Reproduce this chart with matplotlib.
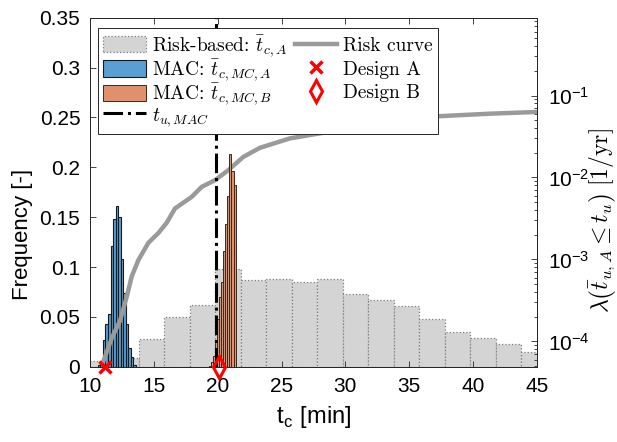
import matplotlib
matplotlib.use("Agg")
import matplotlib.pyplot as plt
import numpy as np
from matplotlib.ticker import FixedLocator, FuncFormatter

plt.rcParams['font.family'] = ['Liberation Sans', 'DejaVu Sans']
plt.rcParams['mathtext.fontset'] = 'cm'

# risk-based histogram (2 min bins)
grey_start, grey_width = 9.8, 2.0
grey_freq = [0.006, 0.009, 0.028, 0.050, 0.062, 0.098, 0.087, 0.088, 0.085,
             0.088, 0.073, 0.067, 0.061, 0.048, 0.035, 0.029, 0.023, 0.015]

# MAC design A histogram
blue_start, blue_width = 10.6, 0.2
blue_freq = [0.002, 0.004, 0.027, 0.043, 0.053, 0.121, 0.148, 0.161, 0.150,
             0.108, 0.074, 0.043, 0.019, 0.010, 0.002]

# MAC design B histogram
orange_start, orange_width = 19.32, 0.16
orange_freq = [0.001, 0.005, 0.011, 0.026, 0.048, 0.070, 0.085, 0.116, 0.143,
               0.171, 0.213, 0.196, 0.182]

# risk curve (right axis, log)
risk_t = [11.0, 11.7, 12.35, 12.87, 13.26, 13.78, 14.57, 15.35, 16.0, 16.66,
          17.96, 18.75, 19.8, 20.83, 22.0, 23.3, 25.66, 29.6, 33.5, 37.4, 41.3, 45.0]
risk_lam = [5.5e-5, 1.1e-4, 1.8e-4, 3.5e-4, 6.2e-4, 9.8e-4, 1.6e-3, 2.1e-3, 2.8e-3,
            4.2e-3, 5.8e-3, 7.7e-3, 9.3e-3, 0.0123, 0.0178, 0.023, 0.030, 0.038,
            0.048, 0.056, 0.060, 0.063]

t_u_mac = 19.9
design_a = 11.2
design_b = 20.1

fig = plt.figure(figsize=(6.17, 4.42), dpi=100)
ax = fig.add_axes([0.146, 0.170, 0.724, 0.790])
ax2 = ax.twinx()

def left_edges(start, width, n):
    return start + width * np.arange(n)

h_grey = ax.bar(left_edges(grey_start, grey_width, len(grey_freq)), grey_freq,
                width=grey_width, align='edge', color='#d4d4d4', edgecolor='#7f7f7f',
                linestyle=':', linewidth=0.9, zorder=1, label=r'Risk-based: $\bar{t}_{c,A}$')
h_blue = ax.bar(left_edges(blue_start, blue_width, len(blue_freq)), blue_freq,
                width=blue_width, align='edge', color='#5a9fd4', edgecolor='#1a1a1a',
                linewidth=0.8, zorder=2, label=r'MAC: $\bar{t}_{c,MC,A}$')

h_risk, = ax2.plot(risk_t, risk_lam, color='#9a9a9a', lw=3.2, zorder=3, label='Risk curve')

# orange bars drawn above the risk curve, in left-axis coordinates
h_orange = ax2.bar(left_edges(orange_start, orange_width, len(orange_freq)), orange_freq,
                   width=orange_width, align='edge', color='#e0906a', edgecolor='#3a2a20',
                   linewidth=0.7, zorder=4, transform=ax.transData,
                   label=r'MAC: $\bar{t}_{c,MC,B}$')

h_tu = ax2.axvline(t_u_mac, color='black', ls='-.', lw=2.2, zorder=5, label=r'$t_{u,MAC}$')
h_a, = ax2.plot([design_a], [0], 'x', color='red', ms=9, mew=2.5, transform=ax.transData,
                clip_on=False, zorder=6, label='Design A')
h_b, = ax2.plot([design_b], [0], 'd', color='red', mfc='none', ms=11, mew=2.2,
                transform=ax.transData, clip_on=False, zorder=6, label='Design B')

ax.set_xlim(10, 45)
ax.set_ylim(0, 0.35)
ax.set_xticks(np.arange(10, 46, 5))
ax.set_yticks(np.arange(0, 0.351, 0.05))
ax.yaxis.set_major_formatter(FuncFormatter(lambda v, p: '%g' % round(v, 2)))

ax2.set_yscale('log')
ax2.set_ylim(4.9e-5, 0.89)
ax2.yaxis.set_major_locator(FixedLocator([1e-4, 1e-3, 1e-2, 1e-1]))
ax2.yaxis.set_major_formatter(FuncFormatter(
    lambda v, p: r'$\mathregular{10^{%d}}$' % round(np.log10(v))))

for a in (ax, ax2):
    for s in a.spines.values():
        s.set_color('#262626')
        s.set_linewidth(0.7)
ax.tick_params(direction='in', labelsize=15, colors='#262626', labelcolor='black',
               top=True, length=4, width=0.6)
ax.tick_params(axis='x', pad=7)
ax.tick_params(axis='y', pad=7)
ax2.tick_params(which='both', direction='in', labelsize=15, colors='#262626',
                labelcolor='black', width=0.6, pad=8)
ax2.tick_params(which='major', length=4)
ax2.tick_params(which='minor', length=2.5)

ax.set_xlabel(r't$_\mathregular{c}$ [min]', fontsize=17)
ax.xaxis.set_label_coords(0.5, -0.105)
ax.set_ylabel('Frequency [-]', fontsize=16)
ax.yaxis.set_label_coords(-0.127, 0.38)
ax2.set_ylabel(r'$\lambda\left(\bar{t}_{u,A} \leq t_u\right)\ [1/\mathrm{yr}]$',
               fontsize=17)
ax2.yaxis.set_label_coords(1.113, 0.42)

handles = [h_grey, h_blue, h_orange, h_tu, h_risk, h_a, h_b]
leg = ax2.legend(handles=handles, ncol=2, loc='upper left',
                 bbox_to_anchor=(0.018, 0.97), borderaxespad=0,
                 prop={'family': 'cmr10', 'size': 14}, fancybox=False,
                 framealpha=1, edgecolor='#262626', handlelength=2.2,
                 handleheight=0.9, handletextpad=0.3, columnspacing=0.4,
                 labelspacing=-0.08, borderpad=0.25)
leg.get_frame().set_linewidth(0.7)
leg.set_zorder(10)

# second legend column has plain-text labels (shorter rows): widen its spacing
# so its rows line up with the first column
cols = leg._legend_handle_box.get_children()
if len(cols) == 2:
    cols[1].sep = cols[0].sep + 4.7

fig.savefig('out.png', dpi=100)
